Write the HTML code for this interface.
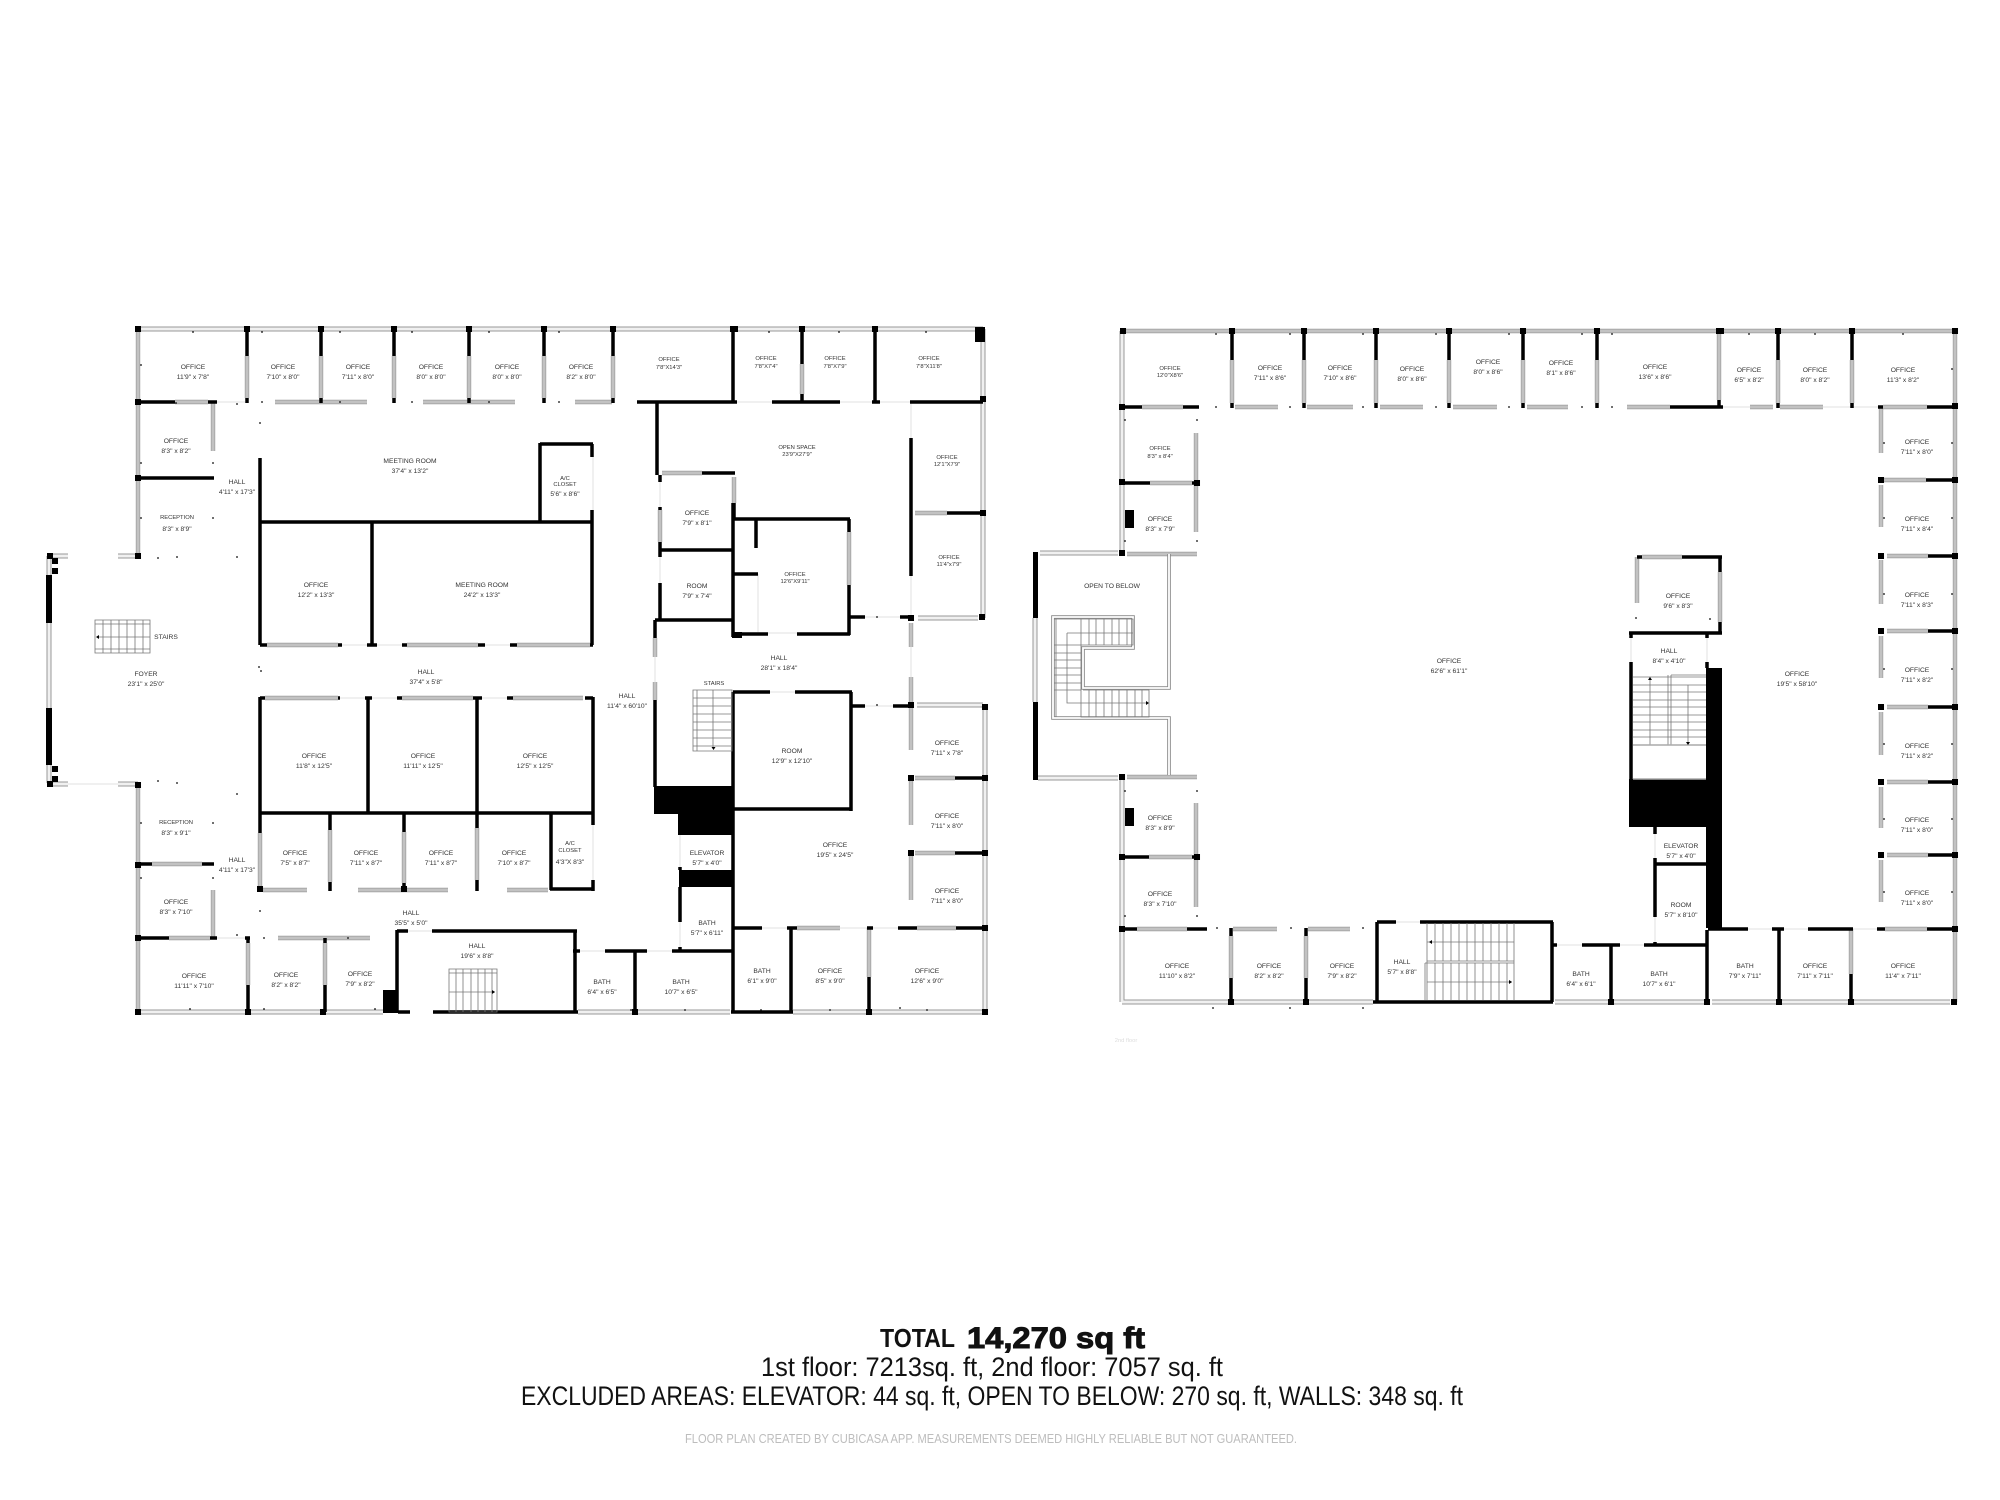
<!DOCTYPE html>
<html><head><meta charset="utf-8"><title>Floor plan</title>
<style>
html,body{margin:0;padding:0;background:#fff}
svg{display:block}
.b{fill:none;stroke:#000;stroke-width:3.5}
.go{fill:none;stroke:#999;stroke-width:4.4}
.gi{fill:none;stroke:#c2c2c2;stroke-width:3}
.wo{fill:none;stroke:#999;stroke-width:5}
.wi{fill:none;stroke:#f0f0f0;stroke-width:3}
.t{fill:none;stroke:#e6e6e6;stroke-width:1.2}
.q{fill:none;stroke:#000;stroke-width:6;stroke-linecap:square}
.d{fill:none;stroke:#111;stroke-width:1.6;stroke-linecap:square}
.s{fill:none;stroke:#777;stroke-width:.8}
.oo{fill:none;stroke:#888;stroke-width:3.6}
.oi{fill:none;stroke:#fff;stroke-width:1.8}
.l text{font:6.7px "Liberation Sans",sans-serif;fill:#333;text-anchor:middle}
.m text{font:5.8px "Liberation Sans",sans-serif;fill:#333;text-anchor:middle}
.f{font-family:"Liberation Sans",sans-serif;fill:#111}
</style></head><body>
<svg xmlns="http://www.w3.org/2000/svg" width="2000" height="1500" viewBox="0 0 2000 1500">
<rect width="2000" height="1500" fill="#fff"/>
<defs>
<path id="w" d="M138 329H983M118 556H138M52 556H68M49 556V575M49 623V708M49 765V783M52 784H68M118 784H138M138 1012H383M578 1012H730M793 1012H983M983 329V618M985 705V1012M918 618H978M917 705H983M1122 331V553M1122 777V1002M1040 553H1118M1035 618V702M1038 778H1118M1122 1002H1373M1555 1002H1705M1712 1002H1950"/>
<path id="g" d="M138 329V556M138 785V1012M1122 331H1955M1955 331V1002M247 356V398M321 356V398M394 356V398M469 356V398M544 356V398M613 356V398M802 364V394M175 402H208M275 402H367M423 402H515M575 402H612M213 402V451M915 513H947M662 473H702M734 477V503M660 510V542M849 532V585M655 638V657M655 682V700M267 645H338M407 645H478M517 645H590M265 698H338M402 698H473M513 698H583M260 833V887M263 890H307M358 890H448M507 890H548M330 830V882M404 832V883M477 828V880M152 864H202M169 938H210M278 938H370M213 890V938M248 943V985M325 943V985M911 705V750M911 778V825M911 853V900M915 778H955M915 853H955M917 928H956M797 928H840M869 928V977M911 623V647M911 677V702M1232 360V403M1304 360V403M1376 360V403M1449 360V403M1523 360V403M1597 360V403M1719 331V400M1778 360V403M1852 360V403M1142 407H1183M1235 407H1278M1307 407H1353M1380 407H1423M1453 407H1497M1527 407H1568M1627 407H1670M1750 407H1773M1780 407H1823M1883 407H1927M1196 433V532M1150 483H1192M1127 554H1197M1127 777H1197M1196 803V907M1149 857H1192M1137 929H1187M1231 936V978M1306 936V978M1233 929H1277M1308 929H1350M1642 557H1682M1637 557V603M1720 572V622M1881 408V453M1881 485V527M1881 560V604M1881 636V678M1881 712V755M1881 787V828M1881 860V902M1883 480H1926M1887 556H1928M1887 631H1928M1887 707H1928M1887 782H1928M1887 855H1928M1885 929H1927M1851 929V974"/>
<path id="o" d="M1169 554V688H1083V648H1133V617H1053V718H1169V775"/>
</defs>
<use href="#w" class="wo"/><use href="#w" class="wi"/>

<!-- thin lines -->
<path class="t" d="M68 784H118M217 402H245M217 938H245M338 645H367M377 645H402M485 645H510M340 698H365M372 698H397M482 698H507M593 457V510M593 825V880M408 931H432M660 482V507M660 557V583M733 402H772M840 402H872M880 402H910M911 402V438M911 576V618M911 647V677M865 617H900M865 706H893M655 657V682M758 574V632M768 633H797M770 692H795M680 835V867M680 922V947M580 951H605M647 951H672M762 928H787M840 928H867M873 928H898M1396 922H1420M1557 945H1582M1620 945H1644M1748 929H1772M1784 929H1808M1853 929H1877M1655 834V858M1655 917V942M1723 407H1750M1823 407H1878M1631 638V662M1707 638V662"/>

<use href="#g" class="go"/><use href="#g" class="gi"/>

<!-- black walls : first floor -->
<path class="b" d="M247 329V356M321 329V356M394 329V356M469 329V356M544 329V356M613 329V356M247 398V403M321 398V403M394 398V403M469 398V403M544 398V403M613 398V403M733 329V402M802 329V364M802 394V402M875 329V402M138 402H175M208 402H217M637 402H737M772 402H840M872 402H880M910 402H983M138 478H214M657 402V475M702 473H735M734 503V520M660 475V482M660 507V510M660 542V557M660 550H733M660 583V620M655 620H733M655 620V638M655 700V787M733 503V637M733 519H850M849 519V532M849 585V635M733 634H768M797 634H850M756 519V548M733 574H758M850 617H865M900 617H911M911 438V576M947 513H983M540 443V522M540 444H593M592 444V457M592 510V645M260 458V645M260 522H592M372 522V645M260 645H267M338 645H342M367 645H377M402 645H407M478 645H485M510 645H517M590 645H593M260 698H265M338 698H340M365 698H372M397 698H402M473 698H482M507 698H513M585 698H593M260 697V833M260 813H593M368 697V813M477 697V828M593 697V825M593 880V891M330 813V830M330 882V891M404 813V832M404 883V891M477 880V891M551 813V890M550 889H593M138 864H152M202 864H214M138 938H169M210 938H217M245 938H250M248 938V943M325 938V943M248 985V1012M325 985V1012M397 930V1012M397 931H408M432 931H577M575 930V1012M398 1012H410M433 1012H578M635 951V1012M605 951H647M672 951H733M573 951H580M733 692V1013M733 692H770M795 692H852M851 692V811M733 809H852M851 706H865M893 706H912M680 867V870M680 887V922M680 947V951M733 928H762M787 928H797M791 928V1012M731 1012H793M869 977V1012M867 928H873M898 928H917M955 778H985M955 853H985M956 928H985"/>
<!-- solid blocks first floor -->
<path fill="#000" d="M383 990H398V1013H383ZM654 786H733V814H654ZM678 814H733V835H678ZM679 870H733V887H679ZM975 327H985V342H975ZM732 632H742V638H732ZM46 575H52V623H46ZM46 708H52V765H46Z"/>
<path class="q" d="M138 329h.01M247 329h.01M321 329h.01M394 329h.01M469 329h.01M544 329h.01M613 329h.01M733 329h2M802 329h.01M875 329h.01M138 402h.01M138 478h.01M138 556h.01M50 556h.01M55 561h.01M55 571h.01M55 769h.01M55 779h.01M50 784h.01M138 785h.01M138 865h.01M138 938h.01M138 1012h.01M248 1012h.01M323 1012h.01M635 1012h.01M869 1012h.01M985 1012h.01M983 399h.01M983 513h.01M982 617h.01M911 618h.01M911 705h.01M911 778h.01M911 853h.01M985 778h.01M985 853h.01M985 928h.01M985 707h.01M260 889h.01M404 889h.01"/>

<!-- stairs first floor -->
<path class="s" d="M95 620H150V653H95ZM95 624H150M95 649H150M103 620V653M111 620V653M119 620V653M127 620V653M135 620V653M143 620V653M97 637H150M693 690H732V751H693ZM693 698H732M693 706H732M693 714H732M693 722H732M693 730H732M693 738H732M693 746H732M713 690V748M697 690V751M449 969H497V1012H449ZM449 973H497M456 969V1012M463 969V1012M471 969V1012M478 969V1012M485 969V1012M492 969V1012M449 992H495"/>
<path fill="#000" d="M96 637l3-2v4ZM713.5 750l-2-3h4ZM495 992l-3-2v4Z"/>

<!-- second floor black -->
<path class="b" d="M1232 331V360M1304 331V360M1376 331V360M1449 331V360M1523 331V360M1597 331V360M1778 331V360M1852 331V360M1232 403V408M1304 403V408M1376 403V408M1449 403V408M1523 403V408M1597 403V408M1852 403V408M1719 400V407M1778 403V408M1122 407H1142M1183 407H1199M1670 407H1723M1878 407H1883M1927 407H1955M1122 483H1150M1192 483H1197M1122 857H1149M1192 857H1197M1122 929H1137M1187 929H1207M1231 928V936M1306 928V936M1231 978V1002M1306 978V1002M1377 922V1002M1377 922H1396M1420 922H1553M1552 922V1002M1373 1002H1553M1553 945H1557M1582 945H1620M1644 945H1707M1611 945V1002M1707 930V1002M1629 633H1722M1631 633V638M1707 633V638M1720 557V572M1720 622V633M1637 557H1642M1682 557H1722M1631 662V779M1707 662V668M1655 827V834M1655 858V917M1655 942V945M1655 864H1707M1708 929H1748M1772 929H1784M1808 929H1853M1779 929V1002M1851 974V1002M1877 929H1885M1927 929H1955M1926 480H1955M1928 556H1955M1928 631H1955M1928 707H1955M1928 782H1955M1928 855H1955"/>
<path fill="#000" d="M1033 552H1038V618H1033ZM1033 702H1038V780H1033ZM1706 668H1722V928H1706ZM1629 779H1706V827H1629ZM1125 510H1134V528H1125ZM1125 808H1134V826H1125Z"/>
<path class="q" d="M1123 331h.01M1232 331h.01M1304 331h.01M1376 331h.01M1449 331h.01M1523 331h.01M1597 331h.01M1719 331h2M1778 331h.01M1852 331h.01M1955 331h.01M1122 407h.01M1122 482h.01M1122 553h.01M1122 777h.01M1122 857h.01M1122 929h.01M1231 1002h.01M1306 1002h.01M1611 1002h.01M1707 1002h.01M1779 1002h.01M1851 1002h.01M1954 1002h.01M1955 406h.01M1955 480h.01M1955 556h.01M1955 631h.01M1955 707h.01M1955 782h.01M1955 855h.01M1955 929h.01M1881 480h.01M1881 556h.01M1881 631h.01M1881 707h.01M1881 782h.01M1881 855h.01M1197 483h.01M1197 857h.01"/>

<!-- open to below stairs -->
<use href="#o" class="oo"/><use href="#o" class="oi"/>
<path class="s" d="M1054 619H1133V645H1081V717H1149V690H1083M1056 619V717M1067 633V703H1147M1067 633H1133M1081 619V645M1089 619V645M1096 619V645M1104 619V645M1112 619V645M1119 619V645M1127 619V645M1054 645H1081M1054 653H1081M1054 660H1081M1054 668H1081M1054 675H1081M1054 683H1081M1054 690H1081M1081 690V717M1089 690V717M1096 690V717M1104 690V717M1112 690V717M1119 690V717M1127 690V717M1135 690V717M1142 690V717"/>
<path fill="#000" d="M1149 703l-3-2v4Z"/>
<!-- second floor stairs -->
<path class="s" d="M1427 923V1000M1427 961H1514M1425 963H1514M1425 963V1000M1514 923V1000M1435 923V961M1443 923V961M1451 923V961M1459 923V961M1467 923V961M1475 923V961M1483 923V961M1491 923V961M1499 923V961M1507 923V961M1435 963V1000M1443 963V1000M1451 963V1000M1459 963V1000M1467 963V1000M1475 963V1000M1483 963V1000M1491 963V1000M1499 963V1000M1507 963V1000M1427 942H1514M1427 982H1512M1633 677H1706M1633 685H1706M1633 692H1706M1633 700H1706M1633 707H1706M1633 715H1706M1633 722H1706M1633 730H1706M1633 737H1706M1633 745H1706M1650 677V745M1668 675V745M1671 675V745M1671 675H1706M1688 685V742"/>
<path fill="none" stroke="#aaa" stroke-width="1.6" d="M1633 745H1706M1633 779H1706"/>
<path fill="#000" d="M1429 942l3-2v4ZM1512 982l-3-2v4ZM1650 677l-2 3h4ZM1688 745l-2-3h4Z"/>

<!-- small dots -->
<path class="d" d="M193 332h.01M262 332h.01M340 332h.01M412 332h.01M489 332h.01M559 332h.01M769 332h.01M839 332h.01M926 332h.01M262 402h.01M340 402h.01M412 402h.01M489 402h.01M559 402h.01M176 403h.01M237 404h.01M141 365h.01M141 463h.01M141 518h.01M213 463h.01M213 518h.01M260 423h.01M158 558h.01M177 557h.01M237 557h.01M259 667h.01M261 671h.01M237 794h.01M158 781h.01M177 783h.01M141 823h.01M213 823h.01M141 878h.01M213 878h.01M260 911h.01M237 935h.01M264 938h.01M264 1009h.01M348 938h.01M190 1009h.01M264 1009h.01M375 1009h.01M631 1010h.01M685 1010h.01M761 1010h.01M830 1010h.01M927 1010h.01M1213 1008h.01M1290 1008h.01M1363 1008h.01M1216 407h.01M1290 407h.01M1363 407h.01M1436 407h.01M1509 407h.01M1582 407h.01M1612 407h.01M1216 334h.01M1290 334h.01M1363 334h.01M1436 334h.01M1509 334h.01M1582 334h.01M1612 334h.01M1749 334h.01M1815 334h.01M1903 334h.01M1197 420h.01M1125 420h.01M1125 541h.01M1197 541h.01M1125 791h.01M1197 791h.01M1125 916h.01M1197 916h.01M1217 928h.01M1291 928h.01M1363 928h.01M1636 618h.01M1710 619h.01M1884 443h.01M1952 443h.01M1884 518h.01M1952 518h.01M1884 594h.01M1952 594h.01M1884 669h.01M1952 669h.01M1884 744h.01M1952 744h.01M1884 819h.01M1952 819h.01M1884 892h.01M1952 892h.01M1952 369h.01M900 1008h.01M877 705h.01M877 617h.01"/>

<!-- labels -->
<g class="l">
<text x="193" y="369">OFFICE</text><text x="193" y="379">11'9" x 7'8"</text>
<text x="283" y="369">OFFICE</text><text x="283" y="379">7'10" x 8'0"</text>
<text x="358" y="369">OFFICE</text><text x="358" y="379">7'11" x 8'0"</text>
<text x="431" y="369">OFFICE</text><text x="431" y="379">8'0" x 8'0"</text>
<text x="507" y="369">OFFICE</text><text x="507" y="379">8'0" x 8'0"</text>
<text x="581" y="369">OFFICE</text><text x="581" y="379">8'2" x 8'0"</text>
<text x="176" y="443">OFFICE</text><text x="176" y="453">8'3" x 8'2"</text>
<text x="237" y="484">HALL</text><text x="237" y="494">4'11" x 17'3"</text>
<text x="410" y="463">MEETING ROOM</text><text x="410" y="473">37'4" x 13'2"</text>
<text x="565" y="496">5'6" x 8'6"</text>
<text x="177" y="531">8'3" x 8'9"</text>
<text x="316" y="587">OFFICE</text><text x="316" y="597">12'2" x 13'3"</text>
<text x="482" y="587">MEETING ROOM</text><text x="482" y="597">24'2" x 13'3"</text>
<text x="166" y="639">STAIRS</text>
<text x="146" y="676">FOYER</text><text x="146" y="686">23'1" x 25'0"</text>
<text x="426" y="674">HALL</text><text x="426" y="684">37'4" x 5'8"</text>
<text x="697" y="515">OFFICE</text><text x="697" y="525">7'9" x 8'1"</text>
<text x="697" y="588">ROOM</text><text x="697" y="598">7'9" x 7'4"</text>
<text x="779" y="660">HALL</text><text x="779" y="670">28'1" x 18'4"</text>
<text x="627" y="698">HALL</text><text x="627" y="708">11'4" x 60'10"</text>
<text x="314" y="758">OFFICE</text><text x="314" y="768">11'8" x 12'5"</text>
<text x="423" y="758">OFFICE</text><text x="423" y="768">11'11" x 12'5"</text>
<text x="535" y="758">OFFICE</text><text x="535" y="768">12'5" x 12'5"</text>
<text x="176" y="835">8'3" x 9'1"</text>
<text x="295" y="855">OFFICE</text><text x="295" y="865">7'5" x 8'7"</text>
<text x="366" y="855">OFFICE</text><text x="366" y="865">7'11" x 8'7"</text>
<text x="441" y="855">OFFICE</text><text x="441" y="865">7'11" x 8'7"</text>
<text x="514" y="855">OFFICE</text><text x="514" y="865">7'10" x 8'7"</text>
<text x="570" y="864">4'3"X 8'3"</text>
<text x="237" y="862">HALL</text><text x="237" y="872">4'11" x 17'3"</text>
<text x="176" y="904">OFFICE</text><text x="176" y="914">8'3" x 7'10"</text>
<text x="411" y="915">HALL</text><text x="411" y="925">35'5" x 5'0"</text>
<text x="477" y="948">HALL</text><text x="477" y="958">19'6" x 8'8"</text>
<text x="194" y="978">OFFICE</text><text x="194" y="988">11'11" x 7'10"</text>
<text x="286" y="977">OFFICE</text><text x="286" y="987">8'2" x 8'2"</text>
<text x="360" y="976">OFFICE</text><text x="360" y="986">7'9" x 8'2"</text>
<text x="792" y="753">ROOM</text><text x="792" y="763">12'9" x 12'10"</text>
<text x="947" y="745">OFFICE</text><text x="947" y="755">7'11" x 7'8"</text>
<text x="947" y="818">OFFICE</text><text x="947" y="828">7'11" x 8'0"</text>
<text x="835" y="847">OFFICE</text><text x="835" y="857">19'5" x 24'5"</text>
<text x="947" y="893">OFFICE</text><text x="947" y="903">7'11" x 8'0"</text>
<text x="707" y="855">ELEVATOR</text><text x="707" y="865">5'7" x 4'0"</text>
<text x="707" y="925">BATH</text><text x="707" y="935">5'7" x 6'11"</text>
<text x="602" y="984">BATH</text><text x="602" y="994">6'4" x 6'5"</text>
<text x="681" y="984">BATH</text><text x="681" y="994">10'7" x 6'5"</text>
<text x="762" y="973">BATH</text><text x="762" y="983">6'1" x 9'0"</text>
<text x="830" y="973">OFFICE</text><text x="830" y="983">8'5" x 9'0"</text>
<text x="927" y="973">OFFICE</text><text x="927" y="983">12'6" x 9'0"</text>
<text x="1270" y="370">OFFICE</text><text x="1270" y="380">7'11" x 8'6"</text>
<text x="1340" y="370">OFFICE</text><text x="1340" y="380">7'10" x 8'6"</text>
<text x="1412" y="371">OFFICE</text><text x="1412" y="381">8'0" x 8'6"</text>
<text x="1488" y="364">OFFICE</text><text x="1488" y="374">8'0" x 8'6"</text>
<text x="1561" y="365">OFFICE</text><text x="1561" y="375">8'1" x 8'6"</text>
<text x="1655" y="369">OFFICE</text><text x="1655" y="379">13'6" x 8'6"</text>
<text x="1749" y="372">OFFICE</text><text x="1749" y="382">6'5" x 8'2"</text>
<text x="1815" y="372">OFFICE</text><text x="1815" y="382">8'0" x 8'2"</text>
<text x="1903" y="372">OFFICE</text><text x="1903" y="382">11'3" x 8'2"</text>
<text x="1160" y="521">OFFICE</text><text x="1160" y="531">8'3" x 7'9"</text>
<text x="1112" y="588">OPEN TO BELOW</text>
<text x="1449" y="663">OFFICE</text><text x="1449" y="673">62'6" x 61'1"</text>
<text x="1917" y="444">OFFICE</text><text x="1917" y="454">7'11" x 8'0"</text>
<text x="1917" y="521">OFFICE</text><text x="1917" y="531">7'11" x 8'4"</text>
<text x="1917" y="597">OFFICE</text><text x="1917" y="607">7'11" x 8'3"</text>
<text x="1917" y="672">OFFICE</text><text x="1917" y="682">7'11" x 8'2"</text>
<text x="1917" y="748">OFFICE</text><text x="1917" y="758">7'11" x 8'2"</text>
<text x="1917" y="822">OFFICE</text><text x="1917" y="832">7'11" x 8'0"</text>
<text x="1917" y="895">OFFICE</text><text x="1917" y="905">7'11" x 8'0"</text>
<text x="1678" y="598">OFFICE</text><text x="1678" y="608">9'6" x 8'3"</text>
<text x="1669" y="653">HALL</text><text x="1669" y="663">8'4" x 4'10"</text>
<text x="1797" y="676">OFFICE</text><text x="1797" y="686">19'5" x 58'10"</text>
<text x="1681" y="848">ELEVATOR</text><text x="1681" y="858">5'7" x 4'0"</text>
<text x="1681" y="907">ROOM</text><text x="1681" y="917">5'7" x 8'10"</text>
<text x="1581" y="976">BATH</text><text x="1581" y="986">6'4" x 6'1"</text>
<text x="1659" y="976">BATH</text><text x="1659" y="986">10'7" x 6'1"</text>
<text x="1745" y="968">BATH</text><text x="1745" y="978">7'9" x 7'11"</text>
<text x="1815" y="968">OFFICE</text><text x="1815" y="978">7'11" x 7'11"</text>
<text x="1903" y="968">OFFICE</text><text x="1903" y="978">11'4" x 7'11"</text>
<text x="1160" y="820">OFFICE</text><text x="1160" y="830">8'3" x 8'9"</text>
<text x="1160" y="896">OFFICE</text><text x="1160" y="906">8'3" x 7'10"</text>
<text x="1177" y="968">OFFICE</text><text x="1177" y="978">11'10" x 8'2"</text>
<text x="1269" y="968">OFFICE</text><text x="1269" y="978">8'2" x 8'2"</text>
<text x="1342" y="968">OFFICE</text><text x="1342" y="978">7'9" x 8'2"</text>
<text x="1402" y="964">HALL</text><text x="1402" y="974">5'7" x 8'8"</text>
</g>
<g class="m">
<text x="669" y="361">OFFICE</text><text x="669" y="369">7'8"X14'3"</text>
<text x="766" y="360">OFFICE</text><text x="766" y="368">7'8"X7'4"</text>
<text x="835" y="360">OFFICE</text><text x="835" y="368">7'8"X7'9"</text>
<text x="929" y="360">OFFICE</text><text x="929" y="368">7'8"X11'8"</text>
<text x="565" y="480">A/C</text><text x="565" y="486">CLOSET</text>
<text x="177" y="519">RECEPTION</text><text x="176" y="824">RECEPTION</text>
<text x="797" y="449">OPEN SPACE</text><text x="797" y="456">23'9"X27'9"</text>
<text x="947" y="459">OFFICE</text><text x="947" y="466">12'1"X7'9"</text>
<text x="795" y="576">OFFICE</text><text x="795" y="583">12'6"X9'11"</text>
<text x="949" y="559">OFFICE</text><text x="949" y="566">11'4"x7'9"</text>
<text x="714" y="685">STAIRS</text>
<text x="570" y="845">A/C</text><text x="570" y="852">CLOSET</text>
<text x="1170" y="370">OFFICE</text><text x="1170" y="377">12'0"X8'6"</text>
<text x="1160" y="450">OFFICE</text><text x="1160" y="458">8'3" x 8'4"</text>
<text x="1126" y="1042" style="fill:#ddd">2nd floor</text>
</g>

<!-- totals -->
<text class="f" x="880" y="1347" font-size="26" textLength="75" lengthAdjust="spacingAndGlyphs" font-weight="bold">TOTAL</text>
<text class="f" x="967" y="1348" font-size="30" textLength="178" lengthAdjust="spacingAndGlyphs" font-weight="bold" stroke="#111" stroke-width="1">14,270 sq ft</text>
<text class="f" x="761" y="1376" font-size="27" textLength="462" lengthAdjust="spacingAndGlyphs">1st floor: 7213sq. ft, 2nd floor: 7057 sq. ft</text>
<text class="f" x="521" y="1405" font-size="27" textLength="942" lengthAdjust="spacingAndGlyphs">EXCLUDED AREAS: ELEVATOR: 44 sq. ft, OPEN TO BELOW: 270 sq. ft, WALLS: 348 sq. ft</text>
<text class="f" x="685" y="1443" font-size="13" textLength="612" lengthAdjust="spacingAndGlyphs" style="fill:#bdbdbd">FLOOR PLAN CREATED BY CUBICASA APP. MEASUREMENTS DEEMED HIGHLY RELIABLE BUT NOT GUARANTEED.</text>
</svg>
</body></html>
